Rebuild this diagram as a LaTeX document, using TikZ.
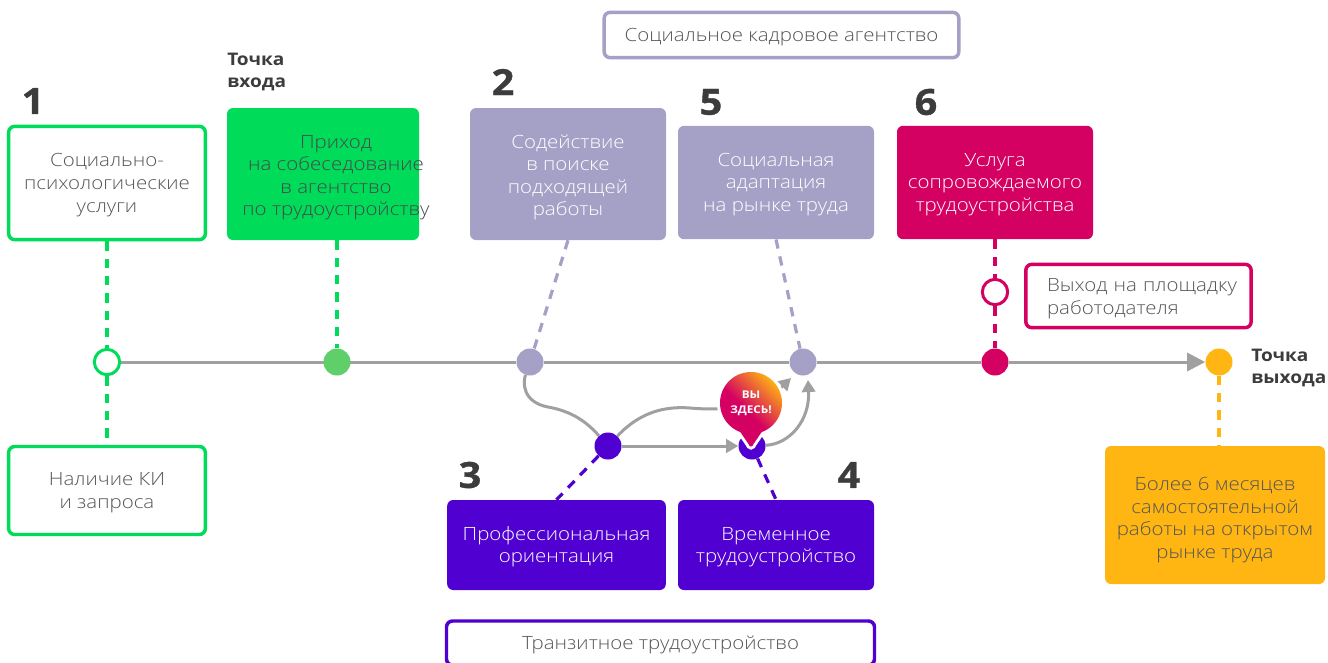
\documentclass[tikz,border=0pt]{standalone}
\usepackage{fontspec}
\setmainfont{Open Sans Light}[FakeStretch=1.12]
\newfontfamily\headfont{Open Sans}[FakeStretch=1.1,UprightFont=* Bold]
\newfontfamily\numfont{Open Sans}[FakeStretch=1.1,FakeBold=1,UprightFont=* Bold]
\usetikzlibrary{arrows.meta,backgrounds,shadings}
\definecolor{cgreen}{HTML}{00DC5A}
\definecolor{cdot}{HTML}{5FCF6A}
\definecolor{clilac}{HTML}{A5A0C6}
\definecolor{cmag}{HTML}{D40062}
\definecolor{cpur}{HTML}{5000D0}
\definecolor{cyel}{HTML}{FFB612}
\definecolor{cline}{HTML}{A0A0A0}
\definecolor{ctxt}{HTML}{555555}
\definecolor{chead}{HTML}{3C3C3C}
\pgfdeclareverticalshading{pinshade}{100bp}{color(0bp)=(cmag); color(46bp)=(cmag); color(74bp)=(cyel); color(100bp)=(cyel)}
\newcommand{\ts}[1][13pt]{\rule{0pt}{#1}}
\tikzset{
 x=0.75pt,y=-0.75pt,
 box/.style={rounded corners=4.5pt,align=center,inner sep=0pt,font=\fontsize{13.7}{16.9}\selectfont,text=ctxt},
 filled/.style={box,fill=#1,text=white},
 outlined/.style={box,draw=#1,line width=2.6pt,fill=white},
 num/.style={font=\numfont\fontsize{27}{27}\selectfont,text=chead,inner sep=0pt},
 lab/.style={font=\headfont\fontsize{13}{16.5}\selectfont,text=chead,inner sep=0pt,align=left},
 dot/.style={circle,minimum size=20.25pt,inner sep=0pt,fill=#1},
 ring/.style={circle,minimum size=19pt,inner sep=0pt,fill=white,draw=#1,line width=2.25pt},
 dashln/.style={draw=#1,line width=2.4pt,dash pattern=on 7pt off 6pt},
 conn/.style={draw=cline,line width=2.25pt},
 arrowed/.style={-{Triangle[length=9pt,width=10pt]}},
 bigarrow/.style={-{Triangle[length=13.5pt,width=13.5pt]}},
}
\begin{document}
\begin{tikzpicture}
\useasboundingbox (0,0) rectangle (1328,662);
\clip (0,0) rectangle (1328,662);
% boxes
\node[outlined=clilac,minimum width=266pt,minimum height=34pt] (top) at (781.5,35) {\ts Социальное кадровое агентство};
\node[outlined=cgreen,minimum width=147.5pt,minimum height=85pt] (b1) at (107,183) {\ts Социально-\\психологические\\услуги};
\node[outlined=cgreen,minimum width=147.5pt,minimum height=66pt] (b0) at (107,490.5) {\ts Наличие КИ\\и запроса};
\node[filled=cgreen,minimum width=144pt,minimum height=99pt] (be) at (323,174) {};
\node[box,text=ctxt!85!black] (tbe) at (336,174) {\ts[15pt]Приход\\на собеседование\\в агентство\\по трудоустройству};
\node[filled=clilac,minimum width=147pt,minimum height=99pt] (b2) at (568,174) {\ts[15pt]Содействие\\в поиске\\подходящей\\работы};
\node[filled=clilac,minimum width=147pt,minimum height=85pt] (b5) at (776,182.5) {\ts Социальная\\адаптация\\на рынке труда};
\node[filled=cmag,minimum width=147pt,minimum height=85pt] (b6) at (995,182.5) {\ts Услуга\\сопровождаемого\\трудоустройства};
\node[filled=cpur,minimum width=164pt,minimum height=67.5pt] (b3) at (556.5,545) {\ts Профессиональная\\ориентация};
\node[filled=cpur,minimum width=147pt,minimum height=67.5pt] (b4) at (776,545) {\ts Временное\\трудоустройство};
\node[filled=cyel,text=ctxt,minimum width=165pt,minimum height=103.5pt] (by) at (1215,515) {\ts[17.5pt]Более 6 месяцев\\самостоятельной\\работы на открытом\\рынке труда};
\node[outlined=cmag,align=left,text width=150pt,minimum width=169pt,minimum height=47.5pt] (bx) at (1138.5,296) {\ts[14pt]\hspace*{6.4pt}Выход на площадку\\\hspace*{6.4pt}работодателя};
\node[outlined=cpur,minimum width=321pt,minimum height=33pt] (bt) at (660.5,643) {\ts Транзитное трудоустройство};
% dots
\node[ring=cgreen] (c1) at (107,362) {};
\node[dot=cdot] (ce) at (337,362) {};
\node[dot=clilac] (c2) at (530,362) {};
\node[dot=clilac] (c5) at (803,362) {};
\node[dot=cmag] (c6) at (995,362) {};
\node[dot=cyel] (cy) at (1219,362) {};
\node[ring=cmag] (cx) at (995,292) {};
\node[dot=cpur] (c3) at (608,446) {};
\node[dot=cpur] (c4) at (752,446) {};
% labels
\node[num,anchor=center] (n1) at (33,101) {1};
\node[num] (n2) at (503,82) {2};
\node[num] (n5) at (711,102) {5};
\node[num] (n6) at (926,102) {6};
\node[num] (n3) at (470,475) {3};
\node[num] (n4) at (849,475) {4};
\node[lab,anchor=west] (le) at (227,72) {Точка\\входа};
\node[lab,anchor=west] (lx) at (1251,368) {Точка\\выхода};
% connectors
\begin{pgfonlayer}{background}
\draw[dashln=cgreen] (b1.south) -- (c1);
\draw[dashln=cgreen] (c1) -- (b0.north);
\draw[dashln=cgreen] (ce |- be.south) -- (ce);
\draw[dashln=clilac] (b2.south) -- (c2);
\draw[dashln=clilac] (b5.south) -- (c5);
\draw[dashln=cmag] (b6.south) -- (cx);
\draw[dashln=cmag] (cx) -- (c6);
\draw[dashln=cpur] (c3) -- (b3.north);
\draw[dashln=cpur] (c4) -- (b4.north);
\draw[dashln=cyel] (cy) -- (cy |- by.north);
\draw[conn] (c1) -- (c2) -- (c5) -- (c6);
\draw[conn,bigarrow] (c6) -- (cy);
\draw[conn] (c2) .. controls (523,382) and (522,402) .. (548,407) .. controls (570,411) and (585,420) .. (c3);
\draw[conn,arrowed] (c3) .. controls (640,412) and (665,406) .. (690,408) .. controls (725,411) and (760,408) .. (791,378);
\draw[conn,arrowed] (c3) -- (c4);
\draw[conn,arrowed] (c4) .. controls (790,444) and (810,420) .. (808,380);
\end{pgfonlayer}
% pin
\begin{scope}[shift={(751,403)},x=0.75pt,y=0.75pt]
\def\pinpath{(10.6,-29.1) arc[start angle=-70,end angle=250,radius=23.25pt] -- (-2.5,-41) to[out=-65,in=180] (0,-43.5) to[out=0,in=-115] (2.5,-41) -- cycle}
\draw[white,line width=4.5pt] \pinpath;
\shade[shading=pinshade,shading angle=-45] \pinpath;
\end{scope}
\node[font=\headfont\fontsize{8}{11.5}\selectfont,text=white,align=center,inner sep=0pt] (pin) at (751,403) {ВЫ\\ЗДЕСЬ!};
\end{tikzpicture}
\end{document}
